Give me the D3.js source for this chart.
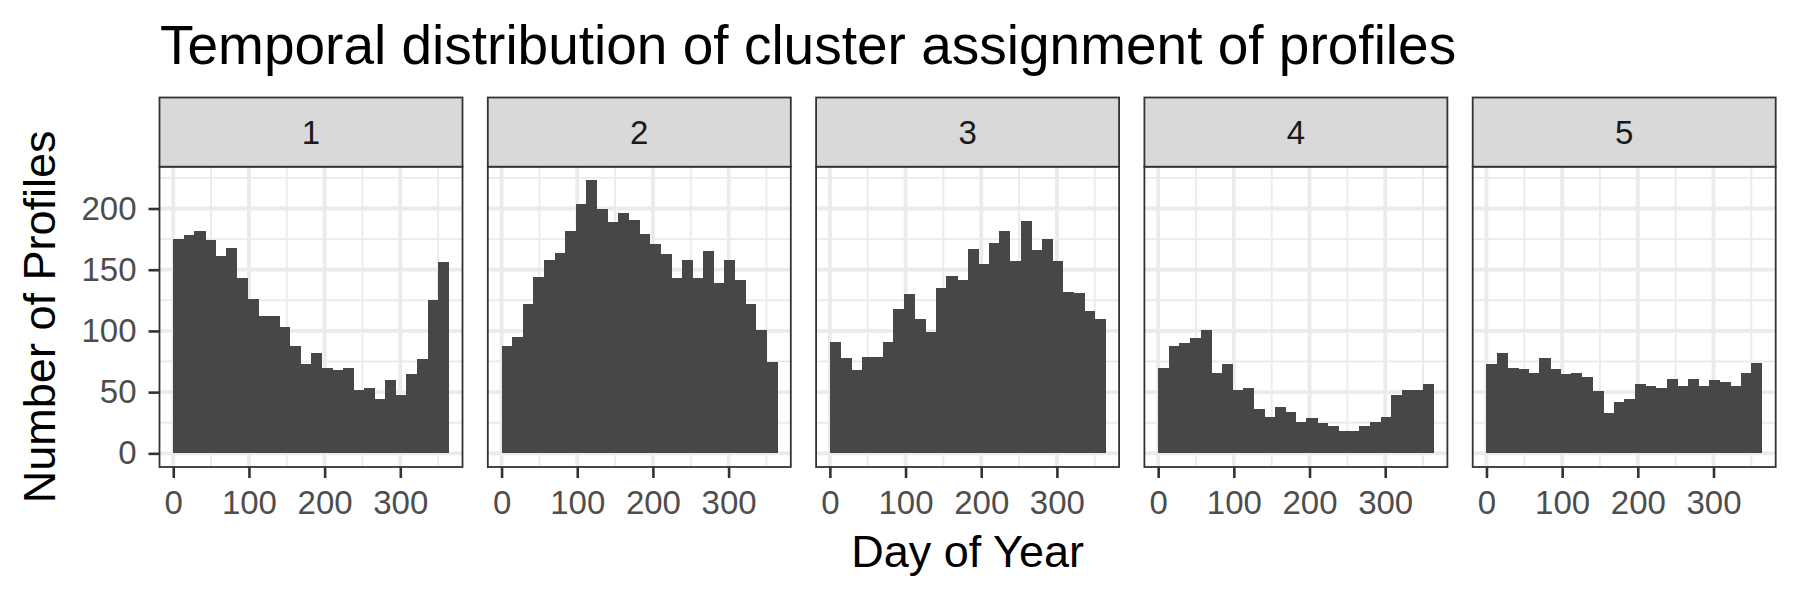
<!DOCTYPE html>
<html>
<head>
<meta charset="utf-8">
<script src="https://cdn.jsdelivr.net/npm/d3@7"></script>
<style>
  html, body { margin: 0; padding: 0; background: #ffffff; }
  svg { display: block; font-family: "Liberation Sans", Arial, sans-serif; }
</style>
</head>
<body>
<script>
// ---------- data ----------
const clusters = ["1", "2", "3", "4", "5"];
const binStarts = [0, 14, 28, 42, 56, 70, 84, 98, 112, 126, 140, 154, 168, 182, 196, 210, 224, 238, 252, 266, 280, 294, 308, 322, 336, 350];
const cluster1 = [175, 178, 182, 174, 161, 168, 143, 126, 112, 112, 103, 88, 73, 82, 70, 68, 70, 52, 53, 44, 60, 48, 65, 77, 125, 156];
const cluster2 = [88, 95, 122, 144, 158, 164, 182, 204, 223, 200, 189, 196, 191, 179, 171, 163, 143, 158, 143, 165, 139, 158, 142, 122, 101, 75];
const cluster3 = [91, 78, 68, 79, 79, 91, 118, 130, 110, 99, 135, 145, 142, 167, 155, 172, 182, 157, 190, 166, 175, 157, 132, 131, 116, 110];
const cluster4 = [70, 88, 90, 94, 101, 66, 73, 52, 53, 36, 30, 38, 34, 26, 29, 25, 22, 18, 18, 22, 26, 30, 48, 52, 52, 57];
const cluster5 = [73, 82, 70, 69, 66, 78, 69, 65, 66, 62, 51, 33, 42, 44, 57, 55, 53, 61, 55, 61, 55, 60, 58, 55, 66, 74];
const xTicks = [0, 100, 200, 300];
const xMinor = [50, 150, 250, 350];
const yTicks = [0, 50, 100, 150, 200];
const yMinor = [25, 75, 125, 175, 225];
const titleText = "Temporal distribution of cluster assignment of profiles";
const xTitle = "Day of Year";
const yTitle = "Number of Profiles";

const seriesList = [cluster1, cluster2, cluster3, cluster4, cluster5];

// ---------- layout ----------
const W = 1800, H = 600;
const panelLeft0 = 159.5, panelStep = 328.3, panelW = 303;
const stripTop = 97.5, panelTop = 166.7, panelBottom = 467;
const borderColor = "#333333";

const svg = d3.select("body").append("svg").attr("width", W).attr("height", H);
svg.append("rect").attr("width", W).attr("height", H).attr("fill", "#ffffff");

const binW = binStarts[1] - binStarts[0];
const xMin = binStarts[0], xMax = binStarts[binStarts.length - 1] + binW;
const xSpan = xMax - xMin;
const x = d3.scaleLinear()
  .domain([xMin - 0.05 * xSpan, xMax + 0.05 * xSpan])
  .range([0, panelW]);

const yMaxVal = d3.max(seriesList, s => d3.max(s));
const y = d3.scaleLinear()
  .domain([-0.05 * yMaxVal, 1.05 * yMaxVal])
  .range([panelBottom, panelTop]);

clusters.forEach((c, i) => {
  const vals = seriesList[i];
  const g = svg.append("g").attr("transform", `translate(${panelLeft0 + i * panelStep},0)`);

  // panel background
  g.append("rect").attr("x", 0).attr("y", panelTop).attr("width", panelW)
    .attr("height", panelBottom - panelTop).attr("fill", "#ffffff");

  const grid = g.append("g");
  // minor grid
  grid.selectAll(".xminor").data(xMinor.filter(v => v >= x.domain()[0] && v <= x.domain()[1])).enter().append("line")
    .attr("x1", d => x(d)).attr("x2", d => x(d)).attr("y1", panelTop).attr("y2", panelBottom)
    .attr("stroke", "#EBEBEB").attr("stroke-width", 1.9);
  grid.selectAll(".yminor").data(yMinor.filter(v => v >= y.domain()[0] && v <= y.domain()[1])).enter().append("line")
    .attr("x1", 0).attr("x2", panelW).attr("y1", d => y(d)).attr("y2", d => y(d))
    .attr("stroke", "#EBEBEB").attr("stroke-width", 1.9);
  // major grid
  grid.selectAll(".xmajor").data(xTicks).enter().append("line")
    .attr("x1", d => x(d)).attr("x2", d => x(d)).attr("y1", panelTop).attr("y2", panelBottom)
    .attr("stroke", "#EBEBEB").attr("stroke-width", 3.8);
  grid.selectAll(".ymajor").data(yTicks).enter().append("line")
    .attr("x1", 0).attr("x2", panelW).attr("y1", d => y(d)).attr("y2", d => y(d))
    .attr("stroke", "#EBEBEB").attr("stroke-width", 3.8);

  // bars
  g.append("g").attr("shape-rendering", "crispEdges")
    .selectAll(".bar").data(vals).enter().append("rect")
    .attr("x", (d, j) => x(binStarts[j]))
    .attr("width", (d, j) => x(binStarts[j] + binW) - x(binStarts[j]) + 0.5)
    .attr("y", d => y(d))
    .attr("height", d => y(0) - y(d))
    .attr("fill", "#474747");

  // panel border
  g.append("rect").attr("x", 0).attr("y", panelTop).attr("width", panelW)
    .attr("height", panelBottom - panelTop).attr("fill", "none")
    .attr("stroke", borderColor).attr("stroke-width", 1.8);

  // strip
  g.append("rect").attr("x", 0).attr("y", stripTop).attr("width", panelW)
    .attr("height", panelTop - stripTop).attr("fill", "#D9D9D9")
    .attr("stroke", borderColor).attr("stroke-width", 1.8);
  g.append("text").attr("x", panelW / 2).attr("y", (stripTop + panelTop) / 2)
    .attr("dy", "0.36em").attr("text-anchor", "middle")
    .attr("font-size", 33).attr("fill", "#1A1A1A").text(c);

  // x axis
  const ax = g.append("g").attr("transform", `translate(0,${panelBottom})`)
    .call(d3.axisBottom(x).tickValues(xTicks).tickSize(11).tickPadding(13).tickFormat(d3.format("d")));
  ax.select(".domain").remove();
  ax.selectAll(".tick line").attr("stroke", borderColor).attr("stroke-width", 2.6);
  ax.selectAll(".tick text").attr("font-size", 33).attr("fill", "#4D4D4D")
    .attr("font-family", "'Liberation Sans', Arial, sans-serif");

  if (i === 0) {
    const ay = g.append("g")
      .call(d3.axisLeft(y).tickValues(yTicks).tickSize(11).tickPadding(12).tickFormat(d3.format("d")));
    ay.select(".domain").remove();
    ay.selectAll(".tick line").attr("stroke", borderColor).attr("stroke-width", 2.6);
    ay.selectAll(".tick text").attr("font-size", 33).attr("fill", "#4D4D4D")
      .attr("font-family", "'Liberation Sans', Arial, sans-serif");
  }
});

// titles
svg.append("text").attr("x", 160).attr("y", 64).attr("font-size", 55)
  .attr("fill", "#000000").text(titleText);

const plotLeft = panelLeft0, plotRight = panelLeft0 + 4 * panelStep + panelW;
svg.append("text").attr("x", (plotLeft + plotRight) / 2).attr("y", 567)
  .attr("text-anchor", "middle").attr("font-size", 45).attr("fill", "#000000").text(xTitle);

svg.append("text")
  .attr("transform", `translate(55,${(panelTop + panelBottom) / 2}) rotate(-90)`)
  .attr("text-anchor", "middle").attr("font-size", 45).attr("fill", "#000000").text(yTitle);
</script>
</body>
</html>
